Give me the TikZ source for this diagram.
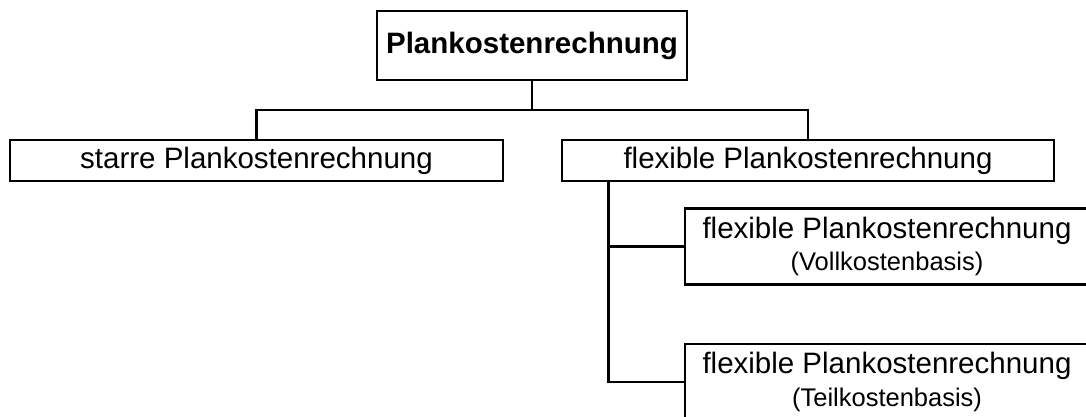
\documentclass[tikz,border=0pt]{standalone}
\usepackage{fontspec}
\setmainfont{Liberation Sans}
\begin{document}
\begin{tikzpicture}[x=1pt,y=-1pt,
  box/.style={draw=black, line width=2.8pt, fill=white, inner sep=0pt, align=center},
  link/.style={draw=black, line width=2.8pt},
  bigtxt/.style={font=\fontsize{29.5}{32}\selectfont}]
\useasboundingbox (0,0) rectangle (1086,416);
\clip (0,0) rectangle (1086,416);

% root
\node[box, minimum width=310pt, minimum height=69pt, font=\bfseries\fontsize{29.5}{32}\selectfont]
  (root) at (532,45.5) {Plankostenrechnung};

% second level
\node[box, bigtxt, minimum width=493pt, minimum height=41pt] (starr) at (256.5,160.5) {starre Plankostenrechnung};
\node[box, bigtxt, minimum width=492pt, minimum height=41pt] (flex) at (808,160.5) {flexible Plankostenrechnung};

% third level
\node[box, minimum width=404pt, minimum height=76pt] (voll) at (887,246.5)
  {\fontsize{29.5}{32}\selectfont flexible Plankostenrechnung\\[7pt]\fontsize{25.5}{28}\selectfont (Vollkostenbasis)};
\node[box, minimum width=404pt, minimum height=76pt] (teil) at (887,382)
  {\fontsize{29.5}{32}\selectfont flexible Plankostenrechnung\\[7pt]\fontsize{25.5}{28}\selectfont (Teilkostenbasis)};

% connectors
\coordinate (j) at (532,110);
\draw[link] (root.south) -- (j);
\draw[link] (starr.north) |- (j) -| (flex.north);

\coordinate (t) at ([xshift=48pt]flex.south west);
\draw[link] (t) |- (voll.west);
\draw[link] (t) |- (teil.west);
\end{tikzpicture}
\end{document}
